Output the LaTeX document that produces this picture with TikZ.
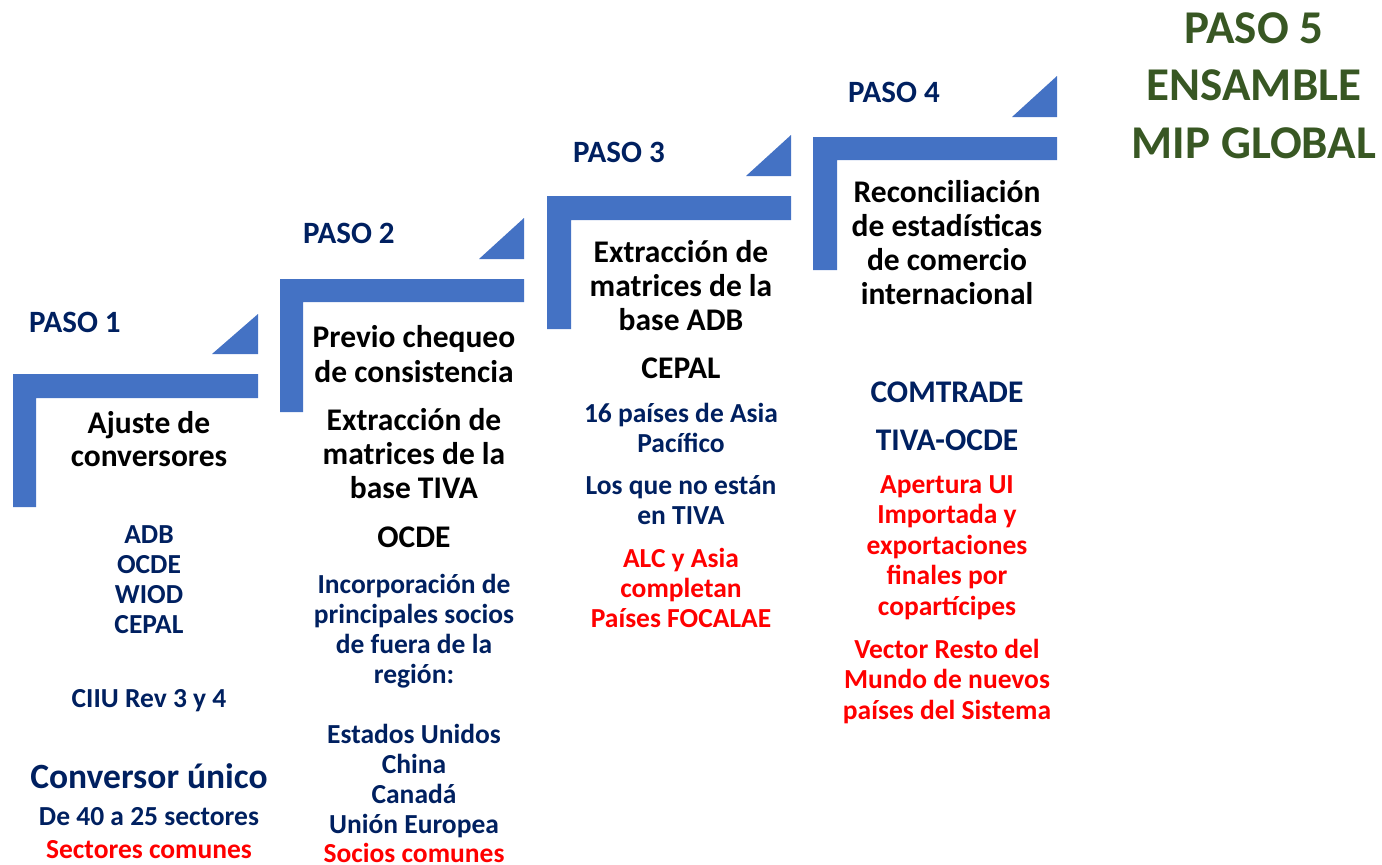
\documentclass[tikz,border=0pt]{standalone}
\usepackage{fontspec}
\setmainfont{Carlito}
\usepackage{xcolor}
\usetikzlibrary{positioning}
\definecolor{pasoblue}{HTML}{4472C4}
\definecolor{navy}{HTML}{002060}
\definecolor{mipgreen}{HTML}{385723}
\newcommand{\fsz}[2]{\fontsize{#1}{#2}\selectfont\bfseries}

\begin{document}
\begin{tikzpicture}[x=1pt, y=-1pt,
	bar/.style={fill=pasoblue},
	paso/.style={anchor=base west, inner sep=0pt, text=navy, font=\fsz{31}{34}},
	title/.style={anchor=base, inner sep=0pt, align=center, font=\fsz{31.5}{34}},
	info/.style={anchor=base, inner sep=0pt, align=center, text=navy, font=\fsz{27.5}{30}},
	infored/.style={info, text=red}]
	\useasboundingbox (0,0) rectangle (1382,865);
	
	\fill[bar] (13,507) |- (258,374) |- (36,398) |- (13,507) -- cycle;
	\fill[bar] (212,354) -- (258,354) -- (258,314) -- cycle;
	\fill[bar] (280,412) |- (524,279) |- (303,302) |- (280,412) -- cycle;
	\fill[bar] (479,259) -- (524,259) -- (524,218) -- cycle;
	\fill[bar] (547,329) |- (791,196) |- (571,220) |- (547,329) -- cycle;
	\fill[bar] (746,176) -- (791,176) -- (791,135) -- cycle;
	\fill[bar] (813,270) |- (1057,137) |- (837,160) |- (813,270) -- cycle;
	\fill[bar] (1012,117) -- (1057,117) -- (1057,76) -- cycle;
	
	\node[paso] (p1) at (29,332) {PASO 1};
	\node[paso] (p2) at (303,243) {PASO 2};
	\node[paso] (p3) at (573,162) {PASO 3};
	\node[paso] (p4) at (848,102) {PASO 4};
	\node[anchor=base, inner sep=0pt, align=center, text=mipgreen, font=\fsz{47}{57.5}] (p5) at (1254,158) {PASO 5\\ENSAMBLE\\MIP GLOBAL};
	
	\node[title, font=\fsz{31.5}{33}] (t1) at (149,466) {Ajuste de\\conversores};
	\node[info] (ref1) at (149,633) {ADB\\OCDE\\WIOD\\CEPAL};
	\node[info] (ciiu) at (149,707) {CIIU Rev 3 y 4};
	\node[info, font=\fsz{35.5}{38}] (conv) at (149,788) {Conversor único};
	\node[info] (sect) at (149,825) {De 40 a 25 sectores};
	\node[infored] (sectc) at (149,858) {Sectores comunes};
	
	\node[title, font=\fsz{31.5}{35}] (t2) at (414,382) {Previo chequeo\\de consistencia};
	\node[title] (ext2) at (414,498) {Extracción de\\matrices de la\\base TIVA};
	\node[title] (ocde) at (414,547) {OCDE};
	\node[info] (inc) at (414,683) {Incorporación de\\principales socios\\de fuera de la\\región:};
	\node[info] (socios) at (414,833) {Estados Unidos\\China\\Canadá\\Unión Europea};
	\node[infored] (socc) at (414,862) {Socios comunes};
	
	\node[title] (t3) at (681,330) {Extracción de\\matrices de la\\base ADB};
	\node[title] (cepal) at (681,378) {CEPAL};
	\node[info] (asia) at (681,452) {16 países de Asia\\Pacífico};
	\node[info] (tiva) at (681,524) {Los que no están\\en TIVA};
	\node[infored] (alc) at (681,627) {ALC y Asia\\completan\\Países FOCALAE};
	
	\node[title] (t4) at (947,304) {Reconciliación\\de estadísticas\\de comercio\\internacional};
	\node[title, text=navy] (comt) at (947,402) {COMTRADE};
	\node[title, text=navy] (tocde) at (947,450) {TIVA-OCDE};
	\node[infored, font=\fsz{27.5}{30.5}] (aper) at (947,615) {Apertura UI\\Importada y\\exportaciones\\finales por\\copartícipes};
	\node[infored, font=\fsz{27.5}{30.5}] (vect) at (947,719) {Vector Resto del\\Mundo de nuevos\\países del Sistema};
\end{tikzpicture}
\end{document}
